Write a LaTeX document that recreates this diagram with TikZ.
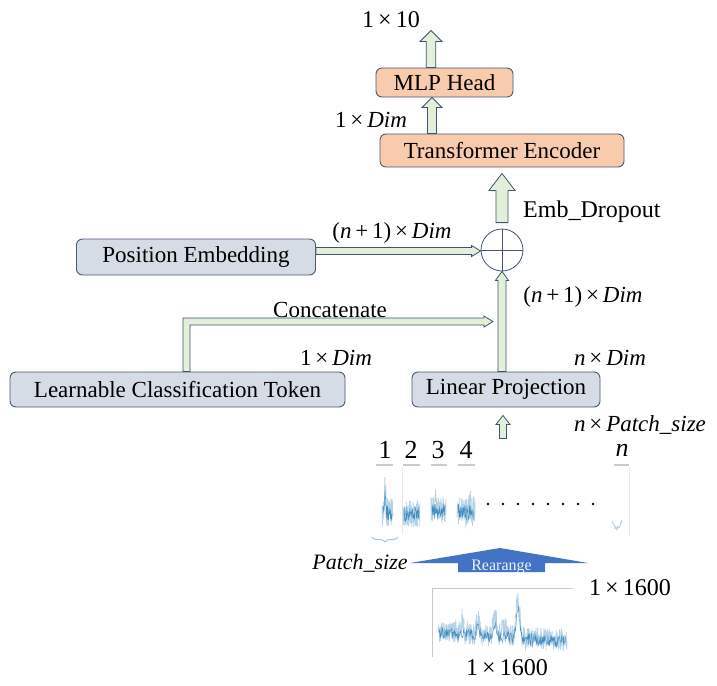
\documentclass[tikz,border=0pt]{standalone}
\usepackage{fontspec}
\setmainfont{Liberation Serif}
\usetikzlibrary{calc,decorations.pathreplacing}

\definecolor{boxfill}{HTML}{D6DCE5}
\definecolor{boxline}{HTML}{4A5870}
\definecolor{orfill}{HTML}{F8CBAD}
\definecolor{arrfill}{HTML}{E2F0D9}
\definecolor{arrline}{HTML}{3E5470}
\definecolor{rearr}{HTML}{4472C4}
\definecolor{sigblue}{HTML}{1F77B4}
\definecolor{axisgray}{HTML}{C8C8C8}
\definecolor{bracecol}{HTML}{9DC3E6}

\newcommand\vblock[5]{%
  \draw[blockarr] ($(#1)+(-#3,0)$) -- ($(#2)+(-#3,#5)$) -- ($(#2)+(-#4,#5)$) -- (#2)
    -- ($(#2)+(#4,#5)$) -- ($(#2)+(#3,#5)$) -- ($(#1)+(#3,0)$) -- cycle;}
\newcommand\hblock[5]{%
  \draw[blockarr] ($(#1)+(0,-#3)$) -- ($(#2)+(-#5,-#3)$) -- ($(#2)+(-#5,-#4)$) -- (#2)
    -- ($(#2)+(-#5,#4)$) -- ($(#2)+(-#5,#3)$) -- ($(#1)+(0,#3)$) -- cycle;}
\newcommand\dimlbl[1]{#1\,×\,\textit{Dim}}

\tikzset{
  bluebox/.style={draw=boxline, fill=boxfill, rounded corners=6pt, line width=0.9pt,
    inner sep=0pt, font=\fontsize{23}{27}\selectfont},
  orangebox/.style={bluebox, fill=orfill},
  blockarr/.style={draw=arrline, fill=arrfill, line width=0.8pt, line join=miter},
  lbl/.style={inner sep=0pt, font=\fontsize{23}{27}\selectfont},
  sig/.style={draw=sigblue!65, line width=0.8pt, opacity=0.5},
  sigdark/.style={draw=sigblue, line width=0.45pt, opacity=0.75},
  patchline/.style={draw=gray!40, line width=1.4pt},
  faint/.style={draw=gray!18, line width=0.6pt},
}

\begin{document}
\begin{tikzpicture}[x=1pt, y=-1pt]
\useasboundingbox[fill=white] (0,0) rectangle (717,685);

% ---------- boxes ----------
\node[orangebox, minimum width=137pt, minimum height=29pt] (mlp) at (444.5,82.5) {MLP Head};
\node[orangebox, minimum width=244pt, minimum height=33pt] (te) at (502,150.5) {Transformer Encoder};
\node[bluebox, minimum width=239pt, minimum height=36pt] (pe) at (196,257) {Position Embedding};
\node[bluebox, minimum width=335pt, minimum height=35pt] (lct) at (177.5,389.5) {Learnable Classification Token};
\node[bluebox, minimum width=188pt, minimum height=35pt] (lp) at (506,389.5) {Linear Projection};
\node[circle, draw=arrline, line width=0.8pt, minimum size=42pt, inner sep=0pt] (plus) at (502,250) {};
\draw[arrline, line width=0.8pt] (plus.north) -- (plus.south) (plus.west) -- (plus.east);

% ---------- arrows ----------
\coordinate (a1b) at ([xshift=-13.5pt]mlp.north);
\coordinate (a1t) at ($(a1b)+(0,-37)$);
\vblock{a1b}{a1t}{4.7}{11}{11}

\coordinate (a2b) at ([xshift=-70pt]te.north);
\coordinate (a2t) at ([xshift=-12.5pt]mlp.south);
\vblock{a2b}{a2t}{4.5}{10}{10}

\coordinate (a3b) at ([yshift=6pt]plus.north);
\coordinate (a3t) at ([yshift=-6pt]te.south);
\vblock{a3b}{a3t}{6}{13}{17}

\coordinate (pa) at ([yshift=6pt]pe.east);
\coordinate (pb) at (pa -| plus.west);
\hblock{pa}{pb}{3.5}{5.5}{9}

\coordinate (lpt) at (plus.south |- lp.north);
\vblock{lpt}{plus.south}{4}{6.5}{9}

\coordinate (cs) at ([xshift=177pt]lct.north west);
\coordinate (cc) at ($(cs)+(0,-50)$);
\coordinate (ce) at ($(plus.center |- cc)+(-9,0)$);
\draw[blockarr] ($(cs)+(-3.5,0)$) -- ($(cc)+(-3.5,-3.5)$) -- ($(ce)+(-9,-3.5)$)
  -- ($(ce)+(-9,-5.5)$) -- (ce) -- ($(ce)+(-9,5.5)$) -- ($(ce)+(-9,3.5)$)
  -- ($(cc)+(3.5,3.5)$) -- ($(cs)+(3.5,0)$) -- cycle;

\coordinate (spb) at ($(lp.south)+(-3,31)$);
\coordinate (spt) at ($(lp.south)+(-3,8)$);
\vblock{spb}{spt}{3.5}{7}{9}

% ---------- labels ----------
\node[lbl, font=\fontsize{24}{28}\selectfont] (l10) at (391,20) {1\,×\,10};
\node[lbl] (ldim1) at (371,120) {\dimlbl{1}};
\node[lbl, anchor=west, font=\fontsize{24}{28}\selectfont] (lemb) at (523,212) {Emb\_Dropout};
\node[lbl] (lnp1a) at (392,233) {\dimlbl{(\textit{n}\,+\,1)}};
\node[lbl] (lnp1b) at (583,297) {\dimlbl{(\textit{n}\,+\,1)}};
\node[lbl] (lcat) at (330,310) {Concatenate};
\node[lbl] (ldim2) at (336,358) {\dimlbl{1}};
\node[lbl] (ldim3) at (610,358) {\dimlbl{\textit{n}}};
\node[lbl] (lps) at (640,425) {\textit{n}\,×\,\textit{Patch\_size}};

% ---------- patches ----------
\foreach \xx/\tt in {385/1, 411/2, 438/3, 466/4}
  \node[lbl, font=\fontsize{26}{30}\selectfont] at (\xx,450) {\tt};
\node[lbl, font=\fontsize{26}{30}\selectfont] at (622,450) {\textit{n}};
\foreach \xa/\xb in {376/393, 403/420, 431/447, 458/475, 614/629}
  \draw[patchline] (\xa,465) -- (\xb,465);
\draw[faint] (402,467) -- (402,534);
\draw[faint] (629,467) -- (629,536);

\pgfmathsetseed{7}
\draw[sig] plot[domain=382:393, samples=70, variable=\t] (\t, {512 + 14*rand - 27*max(0,1-abs(\t-385)/1.6)});
\draw[sig] plot[domain=403:420, samples=90, variable=\t] (\t, {514 + 13*rand});
\draw[sig] plot[domain=431:446, samples=80, variable=\t] (\t, {510 + 13*rand - 14*max(0,1-abs(\t-436)/2)});
\draw[sig] plot[domain=457:475, samples=90, variable=\t] (\t, {511 + 15*rand - 8*max(0,1-abs(\t-470)/2)});
\draw[sigdark] plot[domain=383:392, samples=30, variable=\t] (\t, {514 + 8*rand - 20*max(0,1-abs(\t-385)/1.6)});
\draw[sigdark] plot[domain=404:419, samples=45, variable=\t] (\t, {514 + 7*rand});
\draw[sigdark] plot[domain=432:445, samples=40, variable=\t] (\t, {511 + 7*rand});
\draw[sigdark] plot[domain=458:474, samples=45, variable=\t] (\t, {512 + 8*rand});
\draw[sig] plot[domain=612:622, samples=30, variable=\t] (\t, {528 - 0.3*(\t-617)*(\t-617) + 1.5*rand});

\foreach \k in {0,...,7}
  \fill (488+15*\k,504) circle (1.3pt);

\draw[bracecol, line width=1pt, decorate, decoration={brace, amplitude=5pt, mirror}]
  (372,537) -- (398,537);
\node[lbl, font=\fontsize{22}{26}\selectfont] (lpsz) at (360,563) {\textit{Patch\_size}};

% ---------- rearrange ----------
\fill[rearr] (458,572) -- (458,563) -- (410,563) -- (500,548) -- (588,563)
  -- (545,563) -- (545,572) -- cycle;
\node[inner sep=0pt, text=white!90!rearr, font=\fontsize{16}{18}\selectfont] (lre) at (501.5,566.5) {Rearange};

% ---------- full signal ----------
\draw[axisgray, line width=0.8pt] (432,657) -- (432,588) -- (573,588);
\pgfmathsetseed{11}
\draw[sig] plot[domain=438:567, samples=480, variable=\t]
  (\t, {636 + 0.07*(\t-500) + 11*rand - 14*max(0,1-abs(\t-462)/3)
        - 18*max(0,1-abs(\t-478)/3) - 22*max(0,1-abs(\t-495)/3.5)
        - 44*max(0,1-abs(\t-518)/4) - 8*max(0,1-abs(\t-505)/8)});
\draw[sigdark] plot[domain=439:566, samples=260, variable=\t]
  (\t, {637 + 0.07*(\t-500) + 6*rand - 10*max(0,1-abs(\t-478)/3)
        - 14*max(0,1-abs(\t-495)/3.5) - 30*max(0,1-abs(\t-518)/4)});

\node[lbl, font=\fontsize{24}{28}\selectfont] (l1600a) at (630,588) {1\,×\,1600};
\node[lbl, font=\fontsize{24}{28}\selectfont] (l1600b) at (507,668) {1\,×\,1600};
\end{tikzpicture}
\end{document}
